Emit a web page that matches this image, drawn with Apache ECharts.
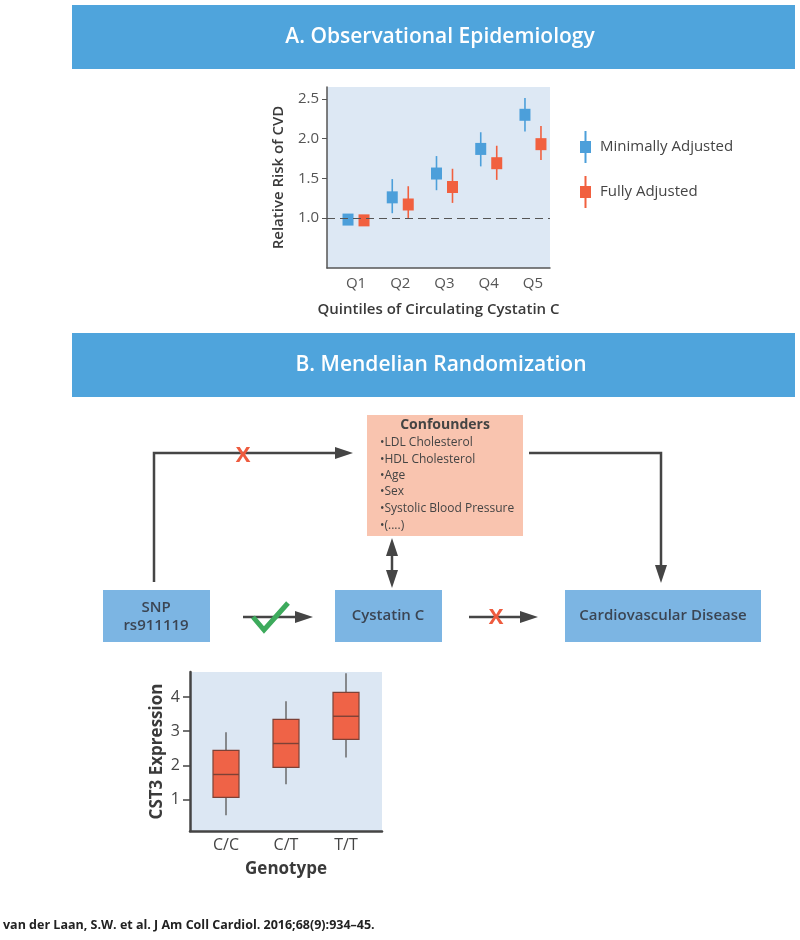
<!DOCTYPE html>
<html>
<head>
<meta charset="utf-8">
<script src="https://cdn.jsdelivr.net/npm/echarts@6/dist/echarts.min.js"></script>
<style>
html,body{margin:0;padding:0;background:#fff;}
#chart{width:800px;height:940px;}
</style>
</head>
<body>
<div id="chart"></div>
<script>
// ---- Panel A data ----
var quintiles = ['Q1', 'Q2', 'Q3', 'Q4', 'Q5'];
var minAdjEst  = [0.98, 1.26, 1.56, 1.87, 2.30];
var minAdjLow  = [0.97, 1.06, 1.35, 1.65, 2.09];
var minAdjHigh = [0.99, 1.49, 1.78, 2.08, 2.51];
var fullAdjEst  = [0.97, 1.17, 1.39, 1.69, 1.93];
var fullAdjLow  = [0.96, 1.00, 1.19, 1.48, 1.73];
var fullAdjHigh = [0.98, 1.40, 1.62, 1.91, 2.16];
var riskTicks = [1.0, 1.5, 2.0, 2.5];

// ---- Panel B box plot data ----
var genotypes = ['C/C', 'C/T', 'T/T'];
var boxMin    = [0.53, 1.44, 2.23];
var boxQ1     = [1.06, 1.94, 2.76];
var boxMedian = [1.73, 2.64, 3.44];
var boxQ3     = [2.44, 3.35, 4.14];
var boxMax    = [2.97, 3.88, 4.70];
var exprTicks = [1, 2, 3, 4];

var FONT = '"Open Sans", "Noto Sans", sans-serif';
var BLUE = '#4C9FDA';
var RED = '#F1603F';

function errorBarRenderer(offset, color) {
  return function (params, api) {
    var x = api.value(0);
    var pLo = api.coord([x, api.value(1)]);
    var pEst = api.coord([x, api.value(2)]);
    var pHi = api.coord([x, api.value(3)]);
    var cx = pEst[0] + offset;
    return {
      type: 'group',
      children: [
        { type: 'line', shape: { x1: cx, y1: pHi[1], x2: cx, y2: pLo[1] },
          style: { stroke: color, lineWidth: 1.6 } },
        { type: 'rect', shape: { x: cx - 5.5, y: pEst[1] - 6, width: 11, height: 12 },
          style: { fill: color } }
      ]
    };
  };
}

function boxRenderer(params, api) {
  var x = api.value(0);
  var pMin = api.coord([x, api.value(1)]);
  var pQ1 = api.coord([x, api.value(2)]);
  var pMed = api.coord([x, api.value(3)]);
  var pQ3 = api.coord([x, api.value(4)]);
  var pMax = api.coord([x, api.value(5)]);
  var cx = pMed[0];
  var hw = 13;
  return {
    type: 'group',
    children: [
      { type: 'line', shape: { x1: cx, y1: pMax[1], x2: cx, y2: pQ3[1] }, style: { stroke: '#6a6a6a', lineWidth: 1.5 } },
      { type: 'line', shape: { x1: cx, y1: pQ1[1], x2: cx, y2: pMin[1] }, style: { stroke: '#6a6a6a', lineWidth: 1.5 } },
      { type: 'rect', shape: { x: cx - hw, y: pQ3[1], width: 2 * hw, height: pQ1[1] - pQ3[1] },
        style: { fill: '#EF6347', stroke: '#7d4136', lineWidth: 1.2 } },
      { type: 'line', shape: { x1: cx - hw, y1: pMed[1], x2: cx + hw, y2: pMed[1] }, style: { stroke: '#7d4136', lineWidth: 1.4 } }
    ]
  };
}

var chart = echarts.init(document.getElementById('chart'), null, { renderer: 'canvas' });

var confounders = ['\u2022LDL Cholesterol', '\u2022HDL Cholesterol', '\u2022Age', '\u2022Sex', '\u2022Systolic Blood Pressure', '\u2022(....)'];
var confY = [443, 460, 476, 492, 509, 526];

var graphics = [
  // header A
  { type: 'rect', shape: { x: 72, y: 5, width: 723, height: 64 }, style: { fill: '#4FA4DC' }, z: 1 },
  { type: 'text', style: { x: 440, y: 37, text: 'A. Observational Epidemiology', fill: '#fff', font: '600 21px ' + FONT, align: 'center', verticalAlign: 'middle' }, z: 2 },
  // header B
  { type: 'rect', shape: { x: 72, y: 333, width: 723, height: 64 }, style: { fill: '#4FA4DC' }, z: 1 },
  { type: 'text', style: { x: 441, y: 365, text: 'B. Mendelian Randomization', fill: '#fff', font: '600 21px ' + FONT, align: 'center', verticalAlign: 'middle' }, z: 2 },
  // confounders box
  { type: 'rect', shape: { x: 367, y: 415, width: 156, height: 121 }, style: { fill: '#F9C4AF' }, z: 1 },
  { type: 'text', style: { x: 445, y: 425, text: 'Confounders', fill: '#444', font: 'bold 14px ' + FONT, align: 'center', verticalAlign: 'middle' }, z: 2 },
  // arrows
  { type: 'polyline', shape: { points: [[154, 582], [154, 453], [340, 453]] }, style: { stroke: '#454545', lineWidth: 2.5, fill: null }, z: 2 },
  { type: 'polygon', shape: { points: [[335, 447], [353, 453], [335, 459]] }, style: { fill: '#454545' }, z: 2 },
  { type: 'polyline', shape: { points: [[529, 453], [661, 453], [661, 570]] }, style: { stroke: '#454545', lineWidth: 2.5, fill: null }, z: 2 },
  { type: 'polygon', shape: { points: [[655, 565], [661, 583], [667, 565]] }, style: { fill: '#454545' }, z: 2 },
  { type: 'line', shape: { x1: 392, y1: 550, x2: 392, y2: 576 }, style: { stroke: '#454545', lineWidth: 2.5 }, z: 2 },
  { type: 'polygon', shape: { points: [[386, 556], [392, 538], [398, 556]] }, style: { fill: '#454545' }, z: 2 },
  { type: 'polygon', shape: { points: [[386, 570], [392, 588], [398, 570]] }, style: { fill: '#454545' }, z: 2 },
  { type: 'line', shape: { x1: 243, y1: 617, x2: 298, y2: 617 }, style: { stroke: '#454545', lineWidth: 2.5 }, z: 2 },
  { type: 'polygon', shape: { points: [[295, 611], [313, 617], [295, 623]] }, style: { fill: '#454545' }, z: 2 },
  { type: 'line', shape: { x1: 469, y1: 617, x2: 524, y2: 617 }, style: { stroke: '#454545', lineWidth: 2.5 }, z: 2 },
  { type: 'polygon', shape: { points: [[520, 611], [538, 617], [520, 623]] }, style: { fill: '#454545' }, z: 2 },
  // check mark and crosses
  { type: 'polyline', shape: { points: [[253, 617], [264, 630], [288, 603]] }, style: { stroke: '#3DAA5C', lineWidth: 5, fill: null, lineJoin: 'miter' }, z: 3 },
  { type: 'text', style: { x: 243, y: 456, text: 'X', fill: '#EE5B3E', font: 'bold 22px ' + FONT, align: 'center', verticalAlign: 'middle' }, z: 3 },
  { type: 'text', style: { x: 496, y: 618, text: 'X', fill: '#EE5B3E', font: 'bold 22px ' + FONT, align: 'center', verticalAlign: 'middle' }, z: 3 },
  // boxes
  { type: 'rect', shape: { x: 103, y: 590, width: 107, height: 52 }, style: { fill: '#7CB5E3' }, z: 1 },
  { type: 'text', style: { x: 156, y: 608, text: 'SNP', fill: '#3b4553', font: '600 15px ' + FONT, align: 'center', verticalAlign: 'middle' }, z: 2 },
  { type: 'text', style: { x: 156, y: 626, text: 'rs911119', fill: '#3b4553', font: '600 15px ' + FONT, align: 'center', verticalAlign: 'middle' }, z: 2 },
  { type: 'rect', shape: { x: 335, y: 590, width: 107, height: 52 }, style: { fill: '#7CB5E3' }, z: 1 },
  { type: 'text', style: { x: 388, y: 616, text: 'Cystatin C', fill: '#3b4553', font: '600 15px ' + FONT, align: 'center', verticalAlign: 'middle' }, z: 2 },
  { type: 'rect', shape: { x: 565, y: 590, width: 196, height: 52 }, style: { fill: '#7CB5E3' }, z: 1 },
  { type: 'text', style: { x: 663, y: 616, text: 'Cardiovascular Disease', fill: '#3b4553', font: '600 15px ' + FONT, align: 'center', verticalAlign: 'middle' }, z: 2 },
  // footer
  { type: 'text', style: { x: 3, y: 925, text: 'van der Laan, S.W. et al. J Am Coll Cardiol. 2016;68(9):934\u201345.', fill: '#222', font: 'bold 12.5px ' + FONT, align: 'left', verticalAlign: 'middle' }, z: 2 }
];
confounders.forEach(function (t, i) {
  graphics.push({ type: 'text', style: { x: 380, y: confY[i], text: t, fill: '#444', font: '12px ' + FONT, align: 'left', verticalAlign: 'middle' }, z: 2 });
});

var option = {
  backgroundColor: '#ffffff',
  animation: false,
  textStyle: { fontFamily: FONT },
  graphic: graphics,
  legend: {
    data: ['Minimally Adjusted', 'Fully Adjusted'],
    orient: 'vertical',
    left: 575,
    top: 126,
    itemWidth: 11,
    itemHeight: 32,
    itemGap: 13,
    icon: 'path://M4.5,0 L6.5,0 L6.5,10 L11,10 L11,22 L6.5,22 L6.5,32 L4.5,32 L4.5,22 L0,22 L0,10 L4.5,10 Z',
    textStyle: { fontSize: 15, color: '#444', fontFamily: FONT, padding: [0, 0, 0, 4] }
  },
  grid: [
    { left: 327, top: 87, width: 223, height: 181, show: true, backgroundColor: '#DDE8F4', borderWidth: 0 },
    { left: 190, top: 672, width: 192, height: 159, show: true, backgroundColor: '#DCE7F3', borderWidth: 0 }
  ],
  xAxis: [
    {
      type: 'value', gridIndex: 0, min: 0.344, max: 5.385,
      splitLine: { show: false },
      axisLine: { show: true, lineStyle: { color: '#555', width: 1.5 } },
      axisTick: { show: false },
      axisLabel: { customValues: [1, 2, 3, 4, 5], formatter: function (v) { return quintiles[Math.round(v) - 1]; }, fontSize: 15, color: '#555', margin: 8 },
      name: 'Quintiles of Circulating Cystatin C', nameLocation: 'middle', nameGap: 34,
      nameTextStyle: { fontSize: 15, fontWeight: 600, color: '#3a3a3a' }
    },
    {
      type: 'value', gridIndex: 1, min: 0.4, max: 3.6,
      splitLine: { show: false },
      axisLine: { show: true, lineStyle: { color: '#444', width: 2.5 } },
      axisTick: { show: false },
      axisLabel: { customValues: [1, 2, 3], formatter: function (v) { return genotypes[Math.round(v) - 1]; }, fontSize: 16, color: '#444', margin: 6 },
      name: 'Genotype', nameLocation: 'middle', nameGap: 30,
      nameTextStyle: { fontSize: 17, fontWeight: 'bold', color: '#3a3a3a' }
    }
  ],
  yAxis: [
    {
      type: 'value', gridIndex: 0, min: 0.37, max: 2.65,
      splitLine: { show: false },
      axisLine: { show: true, lineStyle: { color: '#555', width: 1.5 } },
      axisTick: { show: true, customValues: riskTicks, length: 5, lineStyle: { color: '#555' } },
      axisLabel: { customValues: riskTicks, formatter: function (v) { return v.toFixed(1); }, fontSize: 15, color: '#555', margin: 8 },
      name: 'Relative Risk of CVD', nameLocation: 'middle', nameGap: 41,
      nameTextStyle: { fontSize: 15, fontWeight: 600, color: '#3a3a3a' }
    },
    {
      type: 'value', gridIndex: 1, min: 0.07, max: 4.74,
      splitLine: { show: false },
      axisLine: { show: true, lineStyle: { color: '#444', width: 2.5 } },
      axisTick: { show: true, customValues: exprTicks, length: 7, lineStyle: { color: '#444', width: 1.5 } },
      axisLabel: { customValues: exprTicks, fontSize: 16, color: '#444', margin: 10 },
      name: 'CST3 Expression', nameLocation: 'middle', nameGap: 24,
      nameTextStyle: { fontSize: 17, fontWeight: 'bold', color: '#3a3a3a' }
    }
  ],
  series: [
    {
      name: 'Minimally Adjusted', type: 'custom', xAxisIndex: 0, yAxisIndex: 0,
      itemStyle: { color: BLUE },
      renderItem: errorBarRenderer(-8, BLUE),
      encode: { x: 0, y: [1, 2, 3] },
      data: quintiles.map(function (q, i) { return [i + 1, minAdjLow[i], minAdjEst[i], minAdjHigh[i]]; }),
      markLine: {
        silent: true, symbol: 'none', label: { show: false },
        lineStyle: { color: '#555', width: 1.2, type: [8, 5] },
        data: [{ yAxis: 1.0 }]
      },
      z: 3
    },
    {
      name: 'Fully Adjusted', type: 'custom', xAxisIndex: 0, yAxisIndex: 0,
      itemStyle: { color: RED },
      renderItem: errorBarRenderer(8, RED),
      encode: { x: 0, y: [1, 2, 3] },
      data: quintiles.map(function (q, i) { return [i + 1, fullAdjLow[i], fullAdjEst[i], fullAdjHigh[i]]; }),
      z: 4
    },
    {
      name: 'CST3', type: 'custom', xAxisIndex: 1, yAxisIndex: 1,
      renderItem: boxRenderer,
      encode: { x: 0, y: [1, 2, 3, 4, 5] },
      data: genotypes.map(function (g, i) { return [i + 1, boxMin[i], boxQ1[i], boxMedian[i], boxQ3[i], boxMax[i]]; })
    }
  ]
};
chart.setOption(option);
</script>
</body>
</html>
